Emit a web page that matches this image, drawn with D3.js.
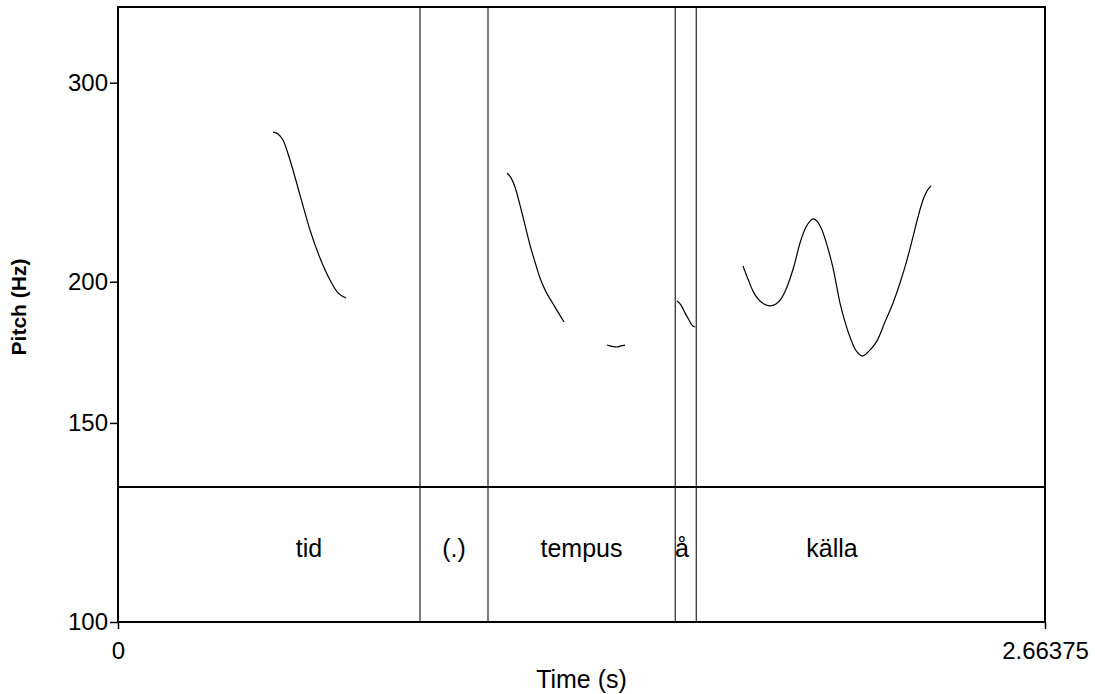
<!DOCTYPE html>
<html>
<head>
<meta charset="utf-8">
<script src="https://cdn.jsdelivr.net/npm/d3@7"></script>
<style>
  body { margin: 0; background: #fff; }
  text { font-family: 'Liberation Sans', Arial, sans-serif; }
</style>
</head>
<body>
<svg id="chart" width="1095" height="694"></svg>
<script>
const width = 1095, height = 694,
    margin = { left: 118, right: 50, top: 7, bottom: 72 },
    tierTop = 487; // top of the text tier

// time range (s) and pitch range (Hz)
const timeDomain = [0, 2.66375];
const pitchDomain = [100, 350];
const pitchTicks = [100, 150, 200, 300];
const timeTicks = [0, 2.66375];

// pitch contour segments: [time (s), pitch (Hz)]
const seg1 = [[0.4454, 271.3], [0.4598, 270.2], [0.4741, 266.9], [0.4942, 256.3], [0.5230, 238.6], [0.5517, 222.2],
    [0.5804, 209.9], [0.6092, 200.7], [0.6322, 195.5], [0.6552, 193.5]];
const seg2 = [[1.1178, 249.6], [1.1293, 247.1], [1.1408, 242.6], [1.1551, 233.8], [1.1695, 224.5], [1.1839, 215.5],
    [1.1982, 208.2], [1.2126, 201.5], [1.2299, 195.9], [1.2471, 191.9], [1.2643, 188.0], [1.2816, 184.3]];
const seg3 = [[1.4051, 175.8], [1.4195, 175.3], [1.4339, 175.1], [1.4454, 175.5], [1.4569, 175.8]];
const seg4 = [[1.6063, 192.3], [1.6178, 190.7], [1.6293, 187.7], [1.6408, 185.0], [1.6494, 183.1], [1.6580, 182.4]];
const seg5 = [[1.7959, 206.5], [1.8103, 201.1], [1.8247, 196.2], [1.8390, 193.1], [1.8563, 191.1], [1.8735, 190.4],
    [1.8907, 191.1], [1.9051, 193.1], [1.9223, 197.9], [1.9425, 206.5], [1.9597, 216.4], [1.9770, 223.6], [1.9885, 226.3],
    [1.9971, 227.3], [2.0086, 226.3], [2.0230, 222.2], [2.0373, 215.5], [2.0546, 205.7], [2.0747, 191.5],
    [2.0891, 184.3], [2.1034, 178.7], [2.1178, 174.4], [2.1293, 172.6], [2.1379, 171.9], [2.1494, 172.6],
    [2.1638, 174.4], [2.1810, 177.3], [2.2040, 184.3], [2.2270, 191.5], [2.2471, 199.5], [2.2672, 209.1],
    [2.2844, 219.1], [2.2988, 228.2], [2.3131, 236.2], [2.3247, 240.6], [2.3362, 243.1]];
const segments = [seg1, seg2, seg3, seg4, seg5];

// text tier
const boundaries = [0.8678, 1.0632, 1.6014, 1.6618];
const labels = ['tid', '(.)', 'tempus', 'å', 'källa'];
const labelTimes = [0.5488, 0.9655, 1.3319, 1.6207, 2.0517];

const svg = d3.select('#chart');

const x = d3.scaleLinear().domain(timeDomain).range([margin.left, width - margin.right]);
const y = d3.scaleLog().domain(pitchDomain).range([height - margin.bottom, margin.top]);
const bottom = height - margin.bottom;

// tier boundaries (drawn full height)
svg.append('g')
    .selectAll('line')
    .data(boundaries)
    .enter()
    .append('line')
    .attr('x1', (d) => x(d))
    .attr('x2', (d) => x(d))
    .attr('y1', margin.top)
    .attr('y2', bottom)
    .attr('stroke', '#444')
    .attr('stroke-width', 1.4);

// pitch contours
const line = d3.line()
    .x((d) => x(d[0]))
    .y((d) => y(d[1]))
    .curve(d3.curveMonotoneX);

svg.append('g')
    .selectAll('path')
    .data(segments)
    .enter()
    .append('path')
    .attr('d', line)
    .attr('fill', 'none')
    .attr('stroke', '#000')
    .attr('stroke-width', 1.2);

// tier separator
svg.append('line')
    .attr('x1', x(timeDomain[0]))
    .attr('x2', x(timeDomain[1]))
    .attr('y1', tierTop)
    .attr('y2', tierTop)
    .attr('stroke', '#000')
    .attr('stroke-width', 1.8);

// frame
svg.append('rect')
    .attr('x', x(timeDomain[0]))
    .attr('y', margin.top)
    .attr('width', x(timeDomain[1]) - x(timeDomain[0]))
    .attr('height', bottom - margin.top)
    .attr('fill', 'none')
    .attr('stroke', '#000')
    .attr('stroke-width', 2);

// tier labels
svg.append('g')
    .selectAll('text')
    .data(labels)
    .enter()
    .append('text')
    .attr('x', (d, i) => x(labelTimes[i]))
    .attr('y', 557)
    .attr('text-anchor', 'middle')
    .style('font-size', '25px')
    .text((d) => d);

// y axis
const yAxis = d3.axisLeft(y).tickValues(pitchTicks).tickFormat(d3.format('d')).tickSize(8).tickPadding(2);
const gy = svg.append('g').attr('transform', `translate(${margin.left},0)`).call(yAxis);
gy.select('.domain').remove();
gy.selectAll('line').attr('stroke', '#000').attr('stroke-width', 1.5);
gy.selectAll('text').style('font-size', '24px').attr('fill', '#000')
    .style('font-family', "'Liberation Sans', Arial, sans-serif");

// x axis
const xAxis = d3.axisBottom(x).tickValues(timeTicks).tickFormat((d) => (d === 0 ? '0' : '2.66375')).tickSize(7).tickPadding(13);
const gx = svg.append('g').attr('transform', `translate(0,${bottom})`).call(xAxis);
gx.select('.domain').remove();
gx.selectAll('line').attr('stroke', '#000').attr('stroke-width', 1.5);
gx.selectAll('text').style('font-size', '24px').attr('fill', '#000').attr('dy', '0')
    .attr('y', 37)
    .style('font-family', "'Liberation Sans', Arial, sans-serif");

// axis titles
svg.append('text')
    .attr('x', (x(timeDomain[0]) + x(timeDomain[1])) / 2)
    .attr('y', 688)
    .attr('text-anchor', 'middle')
    .style('font-size', '25px')
    .text('Time (s)');

svg.append('text')
    .attr('transform', 'translate(26,307) rotate(-90)')
    .attr('text-anchor', 'middle')
    .style('font-size', '21px')
    .style('font-weight', 'bold')
    .text('Pitch (Hz)');
</script>
</body>
</html>
